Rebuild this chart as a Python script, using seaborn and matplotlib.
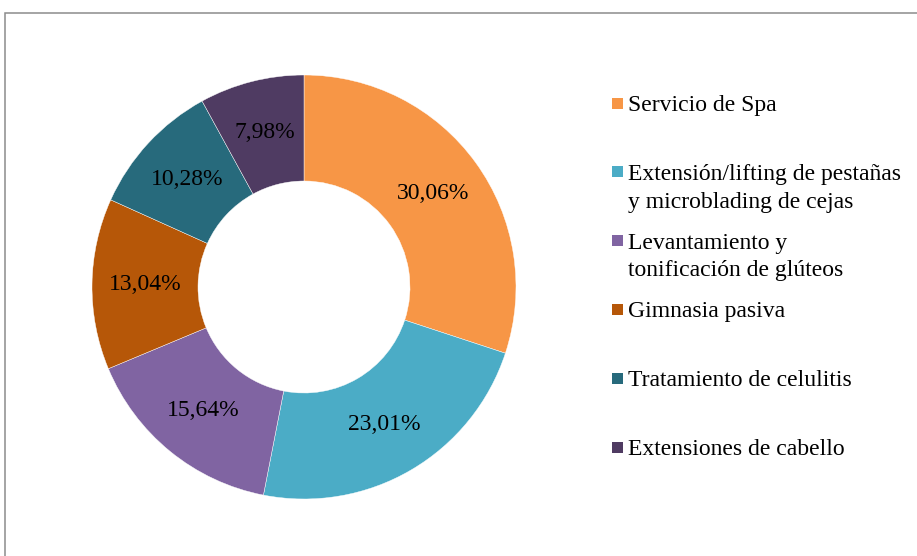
import matplotlib
matplotlib.use("Agg")
import matplotlib.pyplot as plt
import matplotlib.patches as mpatches
import seaborn as sns

# Data
categories = [
    "Servicio de Spa",
    "Extensión/lifting de pestañas\ny microblading de cejas",
    "Levantamiento y\ntonificación de glúteos",
    "Gimnasia pasiva",
    "Tratamiento de celulitis",
    "Extensiones de cabello",
]
shares = [30.06, 23.01, 15.64, 13.04, 10.28, 7.98]
hex_colors = ["#F79646", "#4BACC6", "#8064A2", "#B65708", "#276A7C", "#4F3B62"]

sns.set_theme(style="white")
plt.rcParams["font.family"] = ["Liberation Serif", "DejaVu Serif"]
palette = sns.color_palette(hex_colors)

W, H = 917, 556
fig = plt.figure(figsize=(W / 100, H / 100), dpi=100)

# Outer chart frame (only top and left edges visible)
frame = mpatches.Rectangle((5 / W, -0.1), 1.2, (H - 13) / H + 0.1, transform=fig.transFigure,
                           fill=False, edgecolor="#8c8c8c", linewidth=1.1)
fig.patches.append(frame)

# Donut
cx, cy, r = 304, 287, 212
ax = fig.add_axes([(cx - r) / W, (H - cy - r) / H, 2 * r / W, 2 * r / H])
labels_iter = iter(shares)
ax.pie(shares, colors=palette, startangle=90, counterclock=False, radius=1,
       wedgeprops=dict(width=0.5, edgecolor="white", linewidth=0.3),
       autopct=lambda p: f"{next(labels_iter):.2f}%".replace(".", ","),
       pctdistance=0.75, textprops=dict(fontsize=17, color="black"))
ax.set_xlim(-1, 1)
ax.set_ylim(-1, 1)
ax.set_axis_off()

# Legend on the right: first line of each entry on a fixed step
first_y, step = 103, 68.8
for i, (name, col) in enumerate(zip(categories, palette)):
    y = first_y + i * step
    sq = mpatches.Rectangle(((617 - 5.5) / W, (H - y - 5.5) / H), 11 / W, 11 / H,
                            transform=fig.transFigure, facecolor=col, edgecolor="none")
    fig.patches.append(sq)
    fig.text(628 / W, (H - y + 8) / H, name, fontsize=17, ha="left", va="top",
             linespacing=1.42, color="black")

fig.savefig("out.png", dpi=100, facecolor="white")
